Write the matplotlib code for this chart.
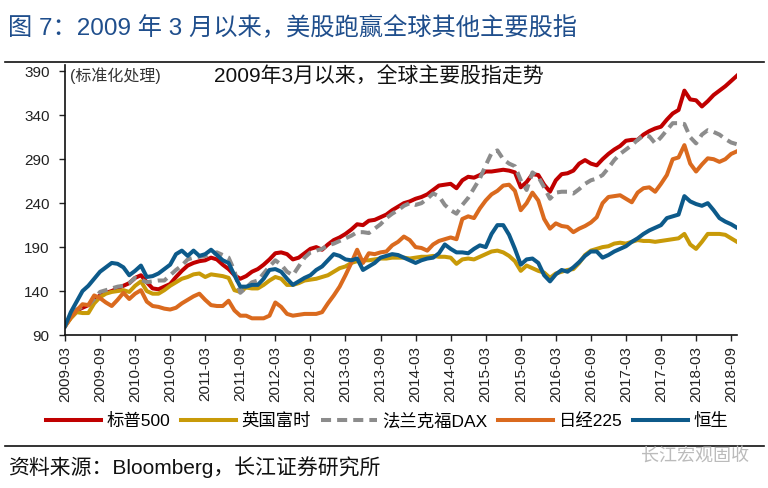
import matplotlib
matplotlib.use('Agg')
import matplotlib.pyplot as plt
from matplotlib.lines import Line2D

plt.rcParams['font.family'] = ['Liberation Sans', 'Noto Sans CJK SC']

# months since 2009-03, one point per month
months = list(range(116))
tick_pos = list(range(0, 115, 6))
tick_labels = ['2009-03', '2009-09', '2010-03', '2010-09', '2011-03', '2011-09',
               '2012-03', '2012-09', '2013-03', '2013-09', '2014-03', '2014-09',
               '2015-03', '2015-09', '2016-03', '2016-09', '2017-03', '2017-09',
               '2018-03', '2018-09']

spx = [100, 110, 118, 121, 124, 130, 135, 138, 140, 143, 146, 149, 155, 158, 150, 143,
       142, 145, 148, 156, 163, 169, 172, 174, 175, 178, 176, 170, 165, 158, 154, 157,
       162, 165, 170, 176, 183, 184, 182, 176, 178, 183, 188, 190, 187, 193, 198, 201,
       205, 210, 216, 215, 220, 221, 224, 227, 232, 236, 240, 242, 245, 247, 250, 255,
       260, 261, 262, 257, 266, 270, 269, 272, 276, 276, 277, 278, 277, 275, 258, 264,
       273, 272, 261, 253, 266, 273, 274, 277, 285, 289, 285, 283, 290, 296, 301, 305,
       311, 312, 312, 318, 322, 325, 327, 335, 342, 346, 368, 358, 357, 350, 356, 363,
       368, 373, 379, 385]

ftse = [100, 109, 116, 115, 115, 126, 133, 137, 139, 140, 141, 139, 146, 151, 140, 137,
        137, 141, 146, 150, 154, 156, 159, 160, 156, 159, 158, 157, 155, 141, 139, 144,
        143, 143, 147, 152, 156, 154, 147, 147, 149, 152, 153, 154, 156, 158, 162, 166,
        168, 172, 174, 175, 175, 176, 177, 177, 178, 178, 178, 177, 178, 179, 179, 180,
        179, 179, 178, 171, 176, 177, 176, 179, 182, 185, 186, 184, 180, 174, 163, 169,
        166, 163, 161, 155, 160, 162, 164, 165, 172, 181, 186, 188, 190, 191, 194, 195,
        194, 196, 198, 197, 197, 196, 197, 198, 199, 200, 205, 193, 188, 196, 205, 205,
        205, 204, 200, 196]

dax = [100, 112, 119, 122, 124, 131, 139, 141, 143, 145, 146, 149, 155, 153, 150, 151,
       152, 152, 158, 164, 169, 176, 178, 179, 180, 182, 184, 181, 178, 163, 138, 144,
       150, 152, 160, 168, 175, 170, 162, 158, 168, 178, 184, 186, 188, 192, 194, 197,
       200, 203, 207, 207, 206, 211, 216, 223, 228, 232, 237, 240, 238, 240, 245, 251,
       248, 238, 232, 228, 238, 246, 257, 268, 283, 297, 300, 290, 285, 282, 266, 255,
       275, 270, 258, 245, 252, 253, 253, 251, 256, 262, 266, 268, 272, 280, 289, 296,
       301, 306, 312, 317, 316, 308, 315, 323, 331, 331, 330, 315, 308, 318, 323, 321,
       318, 313, 309, 307]

nikkei = [100, 110, 118, 125, 124, 135, 132, 127, 123, 130, 138, 131, 137, 141, 128, 123,
          122, 120, 119, 121, 126, 130, 134, 137, 130, 124, 123, 123, 129, 118, 112, 112,
          109, 109, 109, 112, 127, 122, 114, 112, 113, 114, 114, 114, 116, 126, 135, 145,
          158, 172, 187, 172, 183, 182, 184, 185, 192, 196, 202, 198, 190, 189, 186, 193,
          197, 199, 201, 199, 222, 225, 223, 234, 243, 250, 254, 260, 261, 254, 232, 240,
          252, 243, 222, 211, 217, 214, 213, 207, 211, 214, 218, 224, 240, 247, 248, 249,
          245, 241, 252, 257, 258, 253, 262, 272, 290, 292, 306, 285, 276, 284, 291, 290,
          287, 290, 296, 299]

hsi = [100, 116, 128, 140, 146, 154, 162, 167, 172, 171, 167, 158, 163, 169, 156, 157,
       160, 165, 170, 182, 186, 180, 186, 180, 182, 187, 181, 175, 172, 158, 145, 145,
       147, 147, 154, 164, 165, 162, 154, 147, 151, 155, 158, 164, 168, 175, 182, 180,
       176, 175, 177, 164, 168, 172, 178, 180, 182, 181, 178, 175, 172, 175, 177, 178,
       183, 193, 188, 184, 184, 183, 188, 192, 190, 205, 215, 215, 204, 188, 170, 176,
       177, 172, 158, 151, 159, 164, 162, 167, 173, 180, 185, 185, 178, 181, 185, 188,
       191, 196, 200, 205, 209, 212, 215, 223, 225, 227, 248, 242, 239, 237, 240, 232,
       223, 219, 216, 212]

fig = plt.figure(figsize=(7.68, 4.88), dpi=100)
ax = fig.add_axes([0.0846, 0.3135, 0.875, 0.553])

lw = 2.9
ax.plot(months, spx, color='#C00000', lw=lw, label='标普500')
ax.plot(months, ftse, color='#C89A08', lw=lw, label='英国富时')
ax.plot(months, dax, color='#8C8C8C', lw=lw, ls=(0, (2.5, 1.5)), label='法兰克福DAX')
ax.plot(months, nikkei, color='#DA6A1E', lw=lw, label='日经225')
ax.plot(months, hsi, color='#0D5A8A', lw=lw, label='恒生')

ax.set_xlim(0, 115)
ax.set_ylim(90, 397)
ax.set_yticks(range(90, 391, 50))
ax.set_xticks(tick_pos)
ax.set_xticklabels(tick_labels, rotation=90)
ax.tick_params(axis='both', labelsize=11, length=4, width=1, direction='out', colors='#222222')
ax.tick_params(axis='y', pad=7)
ax.tick_params(axis='x', pad=4)
for s in ['top', 'right']:
    ax.spines[s].set_visible(False)
for s in ['left', 'bottom']:
    ax.spines[s].set_color('#111111')
    ax.spines[s].set_linewidth(1.2)

ax.text(0.008, 0.993, '(标准化处理)', transform=ax.transAxes, fontsize=11.5,
        color='#333333', va='top', ha='left')
ax.text(0.467, 0.995, '2009年3月以来，全球主要股指走势', transform=ax.transAxes,
        fontsize=15, color='#111111', va='top', ha='center')

fig.legend(loc='center', bbox_to_anchor=(0.504, 0.137), ncol=5, frameon=False,
           fontsize=12.5, handlelength=3.2, handletextpad=0.3, columnspacing=0.6)

fig.text(0.01, 0.942, '图 7：2009 年 3 月以来，美股跑赢全球其他主要股指',
         fontsize=17.5, color='#1F4E8C', va='center', ha='left')
fig.add_artist(Line2D([0.007, 0.995], [0.872, 0.872], color='#111111', lw=1.2))
fig.add_artist(Line2D([0.007, 0.995], [0.086, 0.086], color='#111111', lw=1.2))
fig.text(0.01, 0.043, '资料来源：Bloomberg，长江证券研究所', fontsize=15,
         color='#111111', va='center', ha='left')
fig.text(0.975, 0.066, '长江宏观固收', fontsize=13, color='#BBBBBB',
         va='center', ha='right')

fig.savefig('out.png', dpi=100)
